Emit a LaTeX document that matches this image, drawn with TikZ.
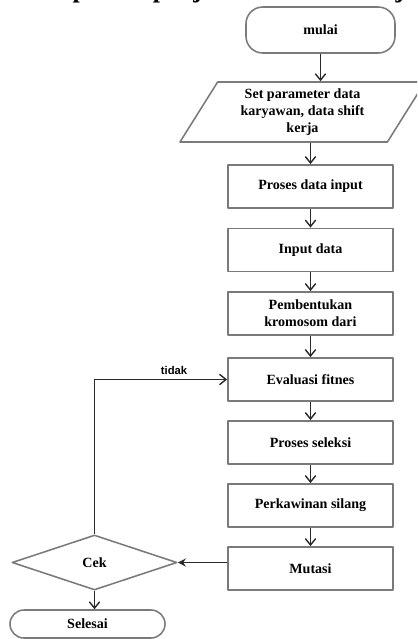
\documentclass[tikz,border=0pt]{standalone}
\usepackage{fontspec}
\setmainfont{Liberation Serif}
\newfontfamily\tidakfont{Liberation Sans}
\usetikzlibrary{shapes.geometric,arrows.meta}
\definecolor{boxgray}{HTML}{7A7A7A}
\definecolor{linegray}{HTML}{2A2A2A}
\begin{document}
\begin{tikzpicture}[x=.025cm,y=-.025cm,line join=round,font=\bfseries\fontsize{10}{12}\selectfont,
  proses/.style={draw=boxgray,line width=1.3pt,minimum width=4.125cm,minimum height=1.075cm,inner sep=1pt,align=center},
  terminal/.style={draw=boxgray,line width=1.1pt,rounded corners=.42cm,align=center},
  masukan/.style={draw=boxgray,line width=1.1pt,trapezium,trapezium left angle=51,trapezium right angle=129,trapezium stretches body,minimum width=6.125cm,minimum height=1.5cm,inner sep=0pt,align=center},
  keputusan/.style={draw=boxgray,line width=1.1pt,diamond,minimum width=4.125cm,minimum height=1.375cm,inner sep=0pt},
  alur/.style={draw=linegray,line width=1pt,-{Straight Barb[length=1.6mm,width=2.6mm]}}]
\useasboundingbox (0,0) rectangle (417,639);
\clip (0,0) rectangle (417,639);
% judul yang terpotong
\node[anchor=base west,inner sep=0pt,font=\bfseries\fontsize{18.5}{22}\selectfont] (judul) at (-3,-3) {roses aplikasi penjadwalan shift kerja d};
\node[terminal,minimum width=3.725cm,minimum height=1.15cm] (mulai) at (320.5,30) {mulai};
\node[masukan] (param) at (302.5,112) {Set parameter data\\karyawan, data shift\\kerja};
\node[proses] (prosesinput) at (310.5,186.5) {Proses data input};
\node[proses] (input) at (310.5,250) {Input data};
\node[proses] (kromosom) at (310.5,313.5) {Pembentukan\\kromosom dari};
\node[proses] (evaluasi) at (310.5,379.5) {Evaluasi fitnes};
\node[proses] (seleksi) at (310.5,442.5) {Proses seleksi};
\node[proses] (silang) at (310.5,505.5) {Perkawinan silang};
\node[proses] (mutasi) at (310.5,568.5) {Mutasi};
\node[keputusan] (cek) at (94.5,562.5) {Cek};
\node[terminal,rounded corners=.35cm,minimum width=3.875cm,minimum height=.7cm] (selesai) at (87.5,624) {Selesai};
\draw[alur] (mulai)--(mulai|-param.north);
\draw[alur] (param.south-|prosesinput)--(prosesinput);
\draw[alur] (prosesinput)--(input);
\draw[alur] (input)--(kromosom);
\draw[alur] (kromosom)--(evaluasi);
\draw[alur] (evaluasi)--(seleksi);
\draw[alur] (seleksi)--(silang);
\draw[alur] (silang)--(mutasi);
\draw[alur,-{Stealth[length=2mm,width=2mm]}] (mutasi.west|-cek)--(cek.east);
\draw[alur] (cek.north)|-(evaluasi.west)node[pos=.8,above,font=\tidakfont\bfseries\fontsize{8}{9}\selectfont]{tidak};
\draw[alur] (cek.south)--(cek.south|-selesai.north);
\end{tikzpicture}
\end{document}
